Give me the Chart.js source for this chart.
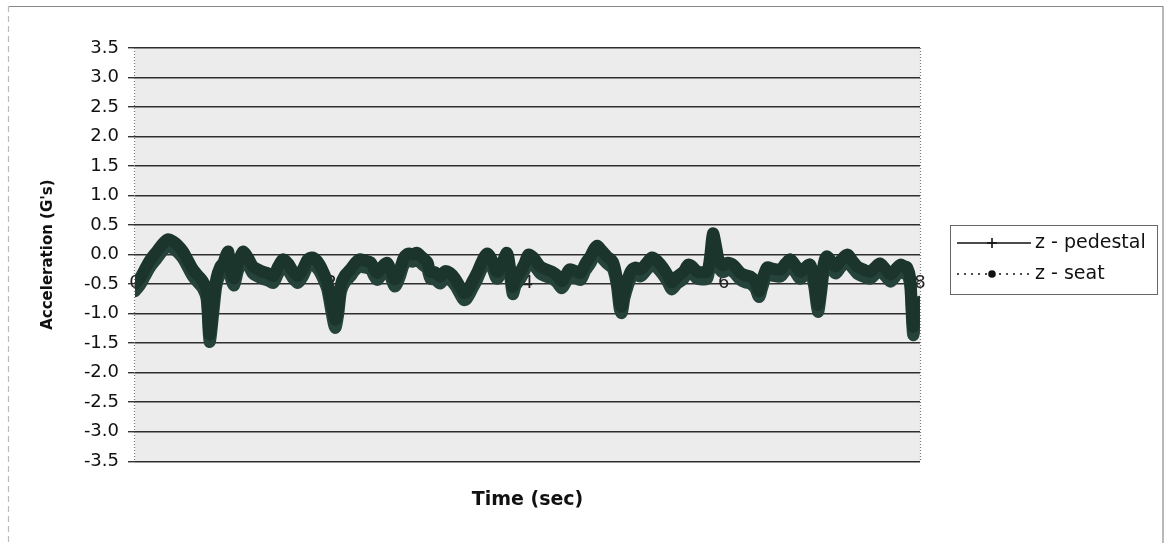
<!DOCTYPE html>
<html>
<head>
<meta charset="utf-8">
<script src="https://cdn.jsdelivr.net/npm/chart.js@4.4.0/dist/chart.umd.min.js"></script>
<style>
html, body { margin: 0; padding: 0; background: #fff; }
#wrap { width: 1165px; height: 543px; position: relative; }
</style>
</head>
<body>
<div id="wrap"><canvas id="accelChart"></canvas></div>
<script>
// Time axis (sec)
const times = [
  0.00, 0.05, 0.10, 0.15, 0.22, 0.29, 0.34, 0.39, 0.44, 0.49,
  0.54, 0.59, 0.64, 0.69, 0.73, 0.76, 0.80, 0.83, 0.87, 0.90,
  0.93, 0.95, 0.98, 1.01, 1.05, 1.10, 1.15, 1.20, 1.25, 1.30,
  1.36, 1.41, 1.46, 1.51, 1.56, 1.61, 1.66, 1.71, 1.76, 1.81,
  1.87, 1.92, 1.96, 2.00, 2.04, 2.07, 2.10, 2.14, 2.19, 2.24,
  2.29, 2.34, 2.40, 2.44, 2.47, 2.52, 2.57, 2.61, 2.65, 2.70,
  2.74, 2.79, 2.83, 2.87, 2.93, 2.98, 3.01, 3.06, 3.11, 3.16,
  3.21, 3.26, 3.31, 3.35, 3.38, 3.44, 3.49, 3.54, 3.59, 3.64,
  3.69, 3.74, 3.79, 3.82, 3.85, 3.88, 3.92, 3.97, 4.01, 4.06,
  4.13, 4.19, 4.25, 4.30, 4.35, 4.39, 4.43, 4.49, 4.54, 4.59,
  4.64, 4.68, 4.71, 4.75, 4.81, 4.87, 4.91, 4.94, 4.96, 4.99,
  5.05, 5.10, 5.15, 5.21, 5.27, 5.33, 5.38, 5.43, 5.47, 5.52,
  5.59, 5.64, 5.69, 5.73, 5.78, 5.83, 5.86, 5.89, 5.92, 5.95,
  5.99, 6.04, 6.10, 6.17, 6.22, 6.27, 6.32, 6.36, 6.39, 6.44,
  6.50, 6.58, 6.63, 6.68, 6.73, 6.78, 6.83, 6.88, 6.92, 6.96,
  6.99, 7.02, 7.05, 7.09, 7.14, 7.19, 7.26, 7.31, 7.36, 7.42,
  7.49, 7.54, 7.59, 7.65, 7.70, 7.75, 7.80, 7.84, 7.87, 7.90,
  7.93, 7.96, 8.00
];

// z - pedestal (G's)
const pedestal = [
  -0.50, -0.40, -0.25, -0.10, 0.05, 0.20, 0.26, 0.22, 0.15, 0.05,
  -0.10, -0.25, -0.35, -0.45, -0.60, -1.35, -0.80, -0.40, -0.20, -0.14,
  0.00, 0.05, -0.30, -0.40, -0.15, 0.05, -0.05, -0.20, -0.25, -0.29,
  -0.32, -0.36, -0.20, -0.08, -0.15, -0.28, -0.36, -0.25, -0.08, -0.05,
  -0.14, -0.30, -0.47, -0.80, -1.10, -0.90, -0.50, -0.35, -0.26, -0.15,
  -0.08, -0.10, -0.13, -0.25, -0.31, -0.20, -0.14, -0.28, -0.42, -0.25,
  -0.05, 0.02, 0.00, 0.03, -0.05, -0.13, -0.29, -0.30, -0.37, -0.28,
  -0.31, -0.40, -0.54, -0.65, -0.63, -0.45, -0.29, -0.10, 0.02, -0.10,
  -0.29, -0.15, 0.03, -0.20, -0.55, -0.40, -0.31, -0.15, 0.00, -0.05,
  -0.20, -0.25, -0.29, -0.35, -0.45, -0.35, -0.25, -0.28, -0.31, -0.15,
  -0.03, 0.10, 0.15, 0.08, -0.03, -0.12, -0.40, -0.80, -0.88, -0.60,
  -0.29, -0.22, -0.25, -0.15, -0.05, -0.12, -0.22, -0.35, -0.47, -0.38,
  -0.29, -0.17, -0.22, -0.29, -0.30, -0.29, -0.05, 0.36, 0.15, -0.10,
  -0.18, -0.14, -0.18, -0.31, -0.35, -0.37, -0.45, -0.62, -0.45, -0.22,
  -0.24, -0.25, -0.15, -0.08, -0.18, -0.29, -0.22, -0.17, -0.40, -0.85,
  -0.55, -0.15, -0.03, -0.10, -0.20, -0.10, 0.00, -0.10, -0.20, -0.25,
  -0.29, -0.22, -0.15, -0.25, -0.34, -0.25, -0.17, -0.20, -0.22, -0.40,
  -1.22, -1.00, -0.80
];

// z - seat (G's)
const seat = [
  -0.62, -0.52, -0.37, -0.22, -0.07, 0.08, 0.14, 0.10, 0.03, -0.07,
  -0.22, -0.37, -0.47, -0.57, -0.75, -1.48, -0.95, -0.52, -0.32, -0.26,
  -0.12, -0.07, -0.42, -0.52, -0.27, -0.07, -0.17, -0.32, -0.37, -0.41,
  -0.44, -0.48, -0.32, -0.20, -0.27, -0.40, -0.48, -0.37, -0.20, -0.17,
  -0.26, -0.42, -0.59, -0.95, -1.24, -1.02, -0.62, -0.47, -0.38, -0.27,
  -0.20, -0.22, -0.25, -0.37, -0.43, -0.32, -0.26, -0.40, -0.54, -0.37,
  -0.17, -0.10, -0.12, -0.09, -0.17, -0.25, -0.41, -0.42, -0.49, -0.40,
  -0.43, -0.52, -0.66, -0.77, -0.75, -0.57, -0.41, -0.22, -0.10, -0.22,
  -0.41, -0.27, -0.09, -0.32, -0.67, -0.52, -0.43, -0.27, -0.12, -0.17,
  -0.32, -0.37, -0.41, -0.47, -0.57, -0.47, -0.37, -0.40, -0.43, -0.27,
  -0.15, -0.02, 0.03, -0.04, -0.15, -0.24, -0.52, -0.92, -0.99, -0.72,
  -0.41, -0.34, -0.37, -0.27, -0.17, -0.24, -0.34, -0.47, -0.59, -0.50,
  -0.41, -0.29, -0.34, -0.41, -0.42, -0.41, -0.17, 0.18, 0.03, -0.22,
  -0.30, -0.26, -0.30, -0.43, -0.47, -0.49, -0.57, -0.72, -0.57, -0.34,
  -0.36, -0.37, -0.27, -0.20, -0.30, -0.41, -0.34, -0.29, -0.52, -0.97,
  -0.67, -0.27, -0.15, -0.22, -0.32, -0.22, -0.12, -0.22, -0.32, -0.37,
  -0.41, -0.34, -0.27, -0.37, -0.46, -0.37, -0.29, -0.32, -0.34, -0.52,
  -1.36, -1.12, -0.92
];

const xTickLabels = [0, 2, 4, 6, 8];
const yMin = -3.5, yMax = 3.5, yStep = 0.5;

const FONT = "'DejaVu Sans', Arial, sans-serif";

// grey plot area + outer frame
const plotBack = {
  id: 'plotBack',
  beforeDraw(chart) {
    const { ctx, chartArea: a } = chart;
    ctx.save();
    ctx.fillStyle = '#ececec';
    ctx.fillRect(a.left, a.top, a.right - a.left, a.bottom - a.top);
    // outer frame of the picture
    ctx.strokeStyle = '#8a8a8a';
    ctx.lineWidth = 1.2;
    ctx.beginPath();
    ctx.moveTo(9, 6.5); ctx.lineTo(1163, 6.5); ctx.lineTo(1163, 543);
    ctx.stroke();
    ctx.strokeStyle = '#bbb';
    ctx.setLineDash([6, 4]);
    ctx.beginPath();
    ctx.moveTo(8.5, 6); ctx.lineTo(8.5, 543);
    ctx.stroke();
    ctx.restore();
  },
  afterDraw(chart) {
    const { ctx, chartArea: a } = chart;
    ctx.save();
    ctx.strokeStyle = '#777';
    ctx.lineWidth = 1.2;
    ctx.setLineDash([1, 2]);
    ctx.beginPath();
    ctx.moveTo(a.left - 0.5, a.top); ctx.lineTo(a.left - 0.5, a.bottom);
    ctx.moveTo(a.right + 0.5, a.top); ctx.lineTo(a.right + 0.5, a.bottom);
    ctx.stroke();
    ctx.restore();
  }
};

// Excel-like legend box on the right
const legendBox = {
  id: 'legendBox',
  afterDraw(chart) {
    const ctx = chart.ctx;
    ctx.save();
    ctx.strokeStyle = '#666';
    ctx.lineWidth = 1;
    ctx.strokeRect(950.5, 225.5, 207, 69);
    ctx.font = '19px ' + FONT;
    ctx.textBaseline = 'middle';
    ctx.fillStyle = '#111';
    chart.data.datasets.forEach((ds, i) => {
      const y = 243 + i * 31;
      ctx.strokeStyle = '#111';
      ctx.lineWidth = 1.6;
      ctx.setLineDash(ds.legendDash ? [2, 5] : []);
      ctx.beginPath();
      ctx.moveTo(957, y); ctx.lineTo(1031, y);
      ctx.stroke();
      ctx.setLineDash([]);
      if (ds.legendMarker === 'cross') {
        ctx.beginPath();
        ctx.moveTo(992, y - 5); ctx.lineTo(992, y + 5);
        ctx.moveTo(987, y); ctx.lineTo(997, y);
        ctx.stroke();
      } else {
        ctx.beginPath();
        ctx.arc(992, y, 3.8, 0, Math.PI * 2);
        ctx.fill();
      }
      ctx.fillText(ds.label, 1035, y);
    });
    ctx.restore();
  }
};

const toPoints = (vals) => vals.map((v, i) => ({ x: times[i], y: v }));

const config = {
  type: 'line',
  data: {
    datasets: [
      {
        label: 'z - pedestal',
        data: toPoints(pedestal),
        borderColor: '#1b352c',
        borderWidth: 12,
        borderJoinStyle: 'round',
        borderCapStyle: 'round',
        pointRadius: 0,
        tension: 0.3,
        legendMarker: 'cross',
        legendDash: false
      },
      {
        label: 'z - seat',
        data: toPoints(seat),
        borderColor: '#25433a',
        borderWidth: 12,
        borderJoinStyle: 'round',
        borderCapStyle: 'round',
        pointRadius: 0,
        tension: 0.3,
        legendMarker: 'dot',
        legendDash: true
      }
    ]
  },
  options: {
    responsive: true,
    maintainAspectRatio: false,
    animation: false,
    layout: { padding: { left: 34, right: 245, top: 48, bottom: 22 } },
    scales: {
      x: {
        type: 'linear',
        min: 0,
        max: 8,
        position: { y: 0 },
        afterBuildTicks: (scale) => { scale.ticks = xTickLabels.map(v => ({ value: v })); },
        ticks: {
          font: { family: FONT, size: 18 },
          color: '#222',
          padding: 18,
          maxRotation: 0
        },
        grid: { display: false, drawTicks: false },
        border: { display: false }
      },
      y: {
        min: yMin,
        max: yMax,
        afterFit: (scale) => { scale.width = 101; },
        ticks: {
          stepSize: yStep,
          font: { family: FONT, size: 18 },
          color: '#111',
          padding: 9,
          callback: (v) => Number(v).toFixed(1)
        },
        grid: {
          color: '#2e2e2e',
          lineWidth: 1.4,
          drawTicks: true,
          tickLength: 7,
          tickColor: '#333'
        },
        border: { display: false },
        title: {
          display: true,
          text: "Acceleration (G's)",
          font: { family: FONT, size: 15, weight: 'bold' },
          color: '#111',
          padding: { top: 5, bottom: 4 }
        }
      }
    },
    plugins: {
      legend: { display: false },
      tooltip: { enabled: false },
      title: {
        display: true,
        text: 'Time (sec)',
        position: 'bottom',
        fullSize: false,
        font: { family: FONT, size: 19, weight: 'bold' },
        color: '#111',
        padding: { top: 27, bottom: 10 }
      }
    }
  },
  plugins: [plotBack, legendBox]
};

const accelChart = new Chart(document.getElementById('accelChart'), config);
</script>
</body>
</html>
